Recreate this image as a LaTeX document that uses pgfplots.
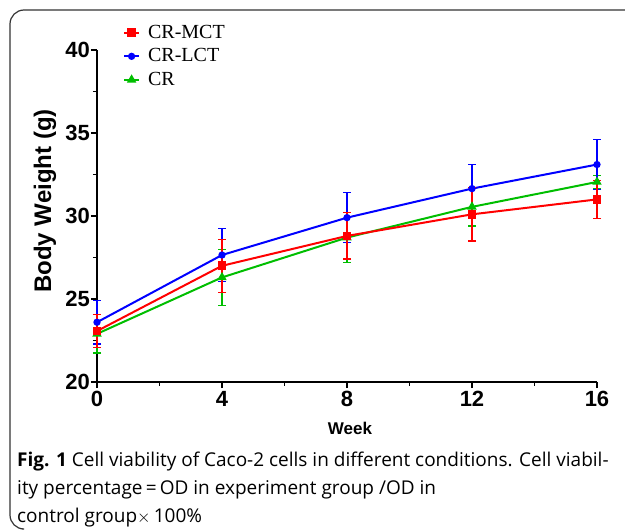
\documentclass[border=0pt]{standalone}
\usepackage{fontspec}
\setmainfont{Liberation Serif}
\newfontfamily\arialfont{Liberation Sans}
\newfontfamily\capfont{Open Sans}
\usepackage{pgfplots}
\pgfplotsset{compat=1.18}
\definecolor{mred}{RGB}{255,0,0}
\definecolor{lblue}{RGB}{0,0,255}
\definecolor{crgreen}{RGB}{0,190,0}

\pgfplotsset{
  ebar/.style={
    error bars/y dir=both, error bars/y explicit,
    error bars/error bar style={line width=1.4pt},
    error bars/error mark options={rotate=90, mark size=4pt, line width=1.4pt}
  }
}

\begin{document}
\begin{tikzpicture}[x=1pt,y=1pt]
  \path[use as bounding box] (0,0) rectangle (625,531);
  % frame round the figure
  \draw[line width=1.2pt, black!80, rounded corners=14pt]
    (625,521) -- (10,521) -- (10,2) -- (22,2);

  \begin{axis}[
      at={(97pt,149pt)}, anchor=south west,
      scale only axis, width=500pt, height=332pt,
      xmin=0, xmax=16, ymin=20, ymax=40,
      axis lines=left, axis line style={line width=2pt, -},
      xtick={0,4,8,12,16}, ytick={20,25,30,35,40},
      minor xtick={2,6,10,14}, minor ytick={22.5,27.5,32.5,37.5},
      tick align=outside, tick pos=left,
      major tick length=6pt, minor tick length=4pt,
      every tick/.style={line width=1.8pt, black},
      tick label style={font=\arialfont\bfseries\fontsize{22}{24}\selectfont},
      y tick label style={inner sep=1pt, xshift=0pt},
      /pgf/number format/assume math mode=true,
      xlabel={\arialfont\bfseries\fontsize{17}{19}\selectfont Week},
      ylabel={\arialfont\bfseries\fontsize{24}{26}\selectfont Body Weight (g)},
      xlabel style={at={(axis description cs:0.506,0)}, anchor=north, yshift=-37pt},
      ylabel style={at={(axis description cs:-0.104,0.545)}, anchor=center},
      clip=false,
      reverse legend,
      legend style={at={(0.046,1.09)}, anchor=north west, draw=none, fill=none,
        font=\fontsize{20}{22}\selectfont, row sep=2.5pt,
        nodes={text height=14pt, text depth=3pt, inner sep=2pt},
        legend cell align=left},
      legend image code/.code={
        \draw[#1, line width=1.8pt] (0pt,0pt) -- (15pt,0pt);
        \draw[#1, mark repeat=1, mark phase=1] plot coordinates {(7.5pt,0pt)};
        \path (21pt,0pt);
      },
    ]
    % CR (green, triangles)
    \addplot[color=crgreen, line width=2pt, mark=triangle*, mark size=3.5pt, ebar]
      coordinates {
        (0,22.9) +- (0,1.15)
        (4,26.3) +- (0,1.7)
        (8,28.7) +- (0,1.5)
        (12,30.55) +- (0,1.15)
        (16,32.05) +- (0,0.4)
      };
    \addlegendentry{CR}
    % CR-LCT (blue, circles)
    \addplot[color=lblue, line width=2pt, mark=*, mark size=2.6pt, ebar]
      coordinates {
        (0,23.6) +- (0,1.3)
        (4,27.65) +- (0,1.6)
        (8,29.9) +- (0,1.5)
        (12,31.65) +- (0,1.45)
        (16,33.1) +- (0,1.5)
      };
    \addlegendentry{CR-LCT}
    % CR-MCT (red, squares)
    \addplot[color=mred, line width=2pt, mark=square*, mark size=3.4pt, ebar]
      coordinates {
        (0,23.07) +- (0,1.0)
        (4,27.0) +- (0,1.6)
        (8,28.8) +- (0,1.4)
        (12,30.1) +- (0,1.6)
        (16,31.0) +- (0,1.15)
      };
    \addlegendentry{CR-MCT}
  \end{axis}

  % caption
  \begin{scope}[every node/.style={anchor=base west, inner sep=0pt,
      font=\capfont\fontsize{19}{22}\selectfont}]
    \node at (17,64) {\textbf{Fig. 1} Cell viability of Caco-2 cells in different conditions. Cell viabil-};
    \node at (17,36) {ity percentage\,=\,OD in experiment group /OD in};
    \node at (17,9) {control group$\times$\,100\%};
  \end{scope}
\end{tikzpicture}
\end{document}
